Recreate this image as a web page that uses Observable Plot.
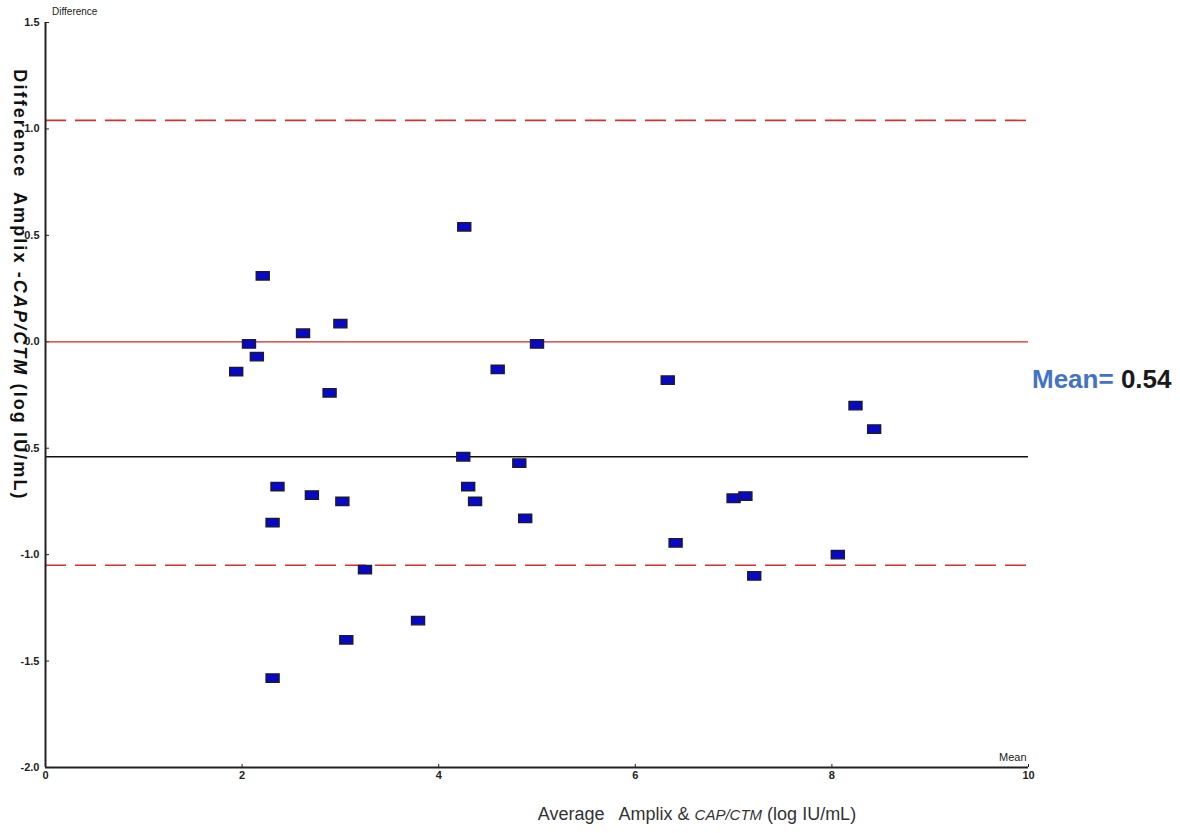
<!DOCTYPE html>
<html>
<head>
<meta charset="utf-8">
<script src="https://cdn.jsdelivr.net/npm/d3@7"></script>
<script src="https://cdn.jsdelivr.net/npm/@observablehq/plot@0.6"></script>
<style>
  body { margin: 0; background: #fff; }
  #wrap { position: relative; width: 1180px; height: 833px; overflow: hidden; }
  #wrap svg { position: absolute; left: 0; top: 0; }
  .lbl { position: absolute; white-space: nowrap; }
</style>
</head>
<body>
<div id="wrap"></div>
<script>
// Average of the two methods (log IU/mL)
const avgValues = [1.94, 2.07, 2.15, 2.21, 2.62, 3.00, 2.89, 2.36, 2.71, 3.02,
  2.31, 3.25, 3.06, 2.31, 3.79, 4.26, 4.25, 4.30, 4.37, 4.60,
  5.00, 4.82, 4.88, 6.33, 6.41, 7.00, 7.12, 7.21, 8.06, 8.24, 8.43];
// Difference Amplix - CAP/CTM (log IU/mL)
const diffValues = [-0.14, -0.01, -0.07, 0.31, 0.04, 0.085, -0.24, -0.68, -0.72, -0.75,
  -0.85, -1.07, -1.40, -1.58, -1.31, 0.54, -0.54, -0.68, -0.75, -0.13,
  -0.01, -0.57, -0.83, -0.18, -0.945, -0.735, -0.725, -1.10, -1.00, -0.30, -0.41];
const meanDiff = -0.54;
const upperLimit = 1.04;
const lowerLimit = -1.05;
const zeroLine = 0;
const xTicks = [0, 2, 4, 6, 8, 10];
const yTicks = [-2.0, -1.5, -1.0, -0.5, 0.0, 0.5, 1.0, 1.5];
const meanLabel = "Mean= ";
const meanValueLabel = "0.54";

const points = avgValues.map((x, i) => ({x, y: diffValues[i]}));

const rectSymbol = {
  draw(ctx) {
    const w = 6.5, h = 4.2;
    ctx.moveTo(-w, -h); ctx.lineTo(w, -h); ctx.lineTo(w, h); ctx.lineTo(-w, h); ctx.closePath();
  }
};

const chart = Plot.plot({
  width: 1180,
  height: 833,
  marginTop: 22,
  marginLeft: 45,
  marginRight: 152,
  marginBottom: 66,
  style: {fontFamily: "'Liberation Sans', Arial, sans-serif", fontSize: "11px", fontWeight: "bold", color: "#222", background: "#fff"},
  x: {domain: [0, 10], ticks: xTicks, tickSize: -3, tickPadding: 7, tickFormat: d => String(d), label: null},
  y: {domain: [-2, 1.5], ticks: yTicks, tickSize: -4, tickPadding: 10, tickFormat: d => d.toFixed(1), label: null},
  marks: [
    Plot.ruleY([zeroLine], {stroke: "#cc2a2a", strokeWidth: 1.3}),
    Plot.ruleY([upperLimit, lowerLimit], {stroke: "#cc3333", strokeWidth: 1.6, strokeDasharray: "21,9"}),
    Plot.ruleY([meanDiff], {stroke: "#111", strokeWidth: 1.4}),
    Plot.ruleX([0], {stroke: "#222", strokeWidth: 2}),
    Plot.ruleY([-2], {stroke: "#222", strokeWidth: 2}),
    Plot.dot(points, {x: "x", y: "y", symbol: rectSymbol, r: 5, fill: "#0808c8", stroke: "#1a1a30", strokeWidth: 1.4})
  ]
});
const wrap = document.getElementById("wrap");
wrap.appendChild(chart);

function addLabel(html, css) {
  const d = document.createElement("div");
  d.className = "lbl";
  d.innerHTML = html;
  Object.assign(d.style, css);
  wrap.appendChild(d);
  return d;
}
addLabel("Difference", {left: "52px", top: "6px", font: "10px 'Liberation Sans', Arial, sans-serif", color: "#222"});
addLabel("Mean", {left: "999px", top: "751px", font: "11px 'Liberation Sans', Arial, sans-serif", color: "#222"});
addLabel("Difference&nbsp; Amplix -<i>CAP/CTM</i> (log IU/mL)", {
  left: "19px", top: "285px", font: "bold 18px 'Liberation Sans', Arial, sans-serif", color: "#111",
  letterSpacing: "2.1px", transform: "translate(-50%, -50%) rotate(90deg)"
});
addLabel("Average&nbsp;&nbsp; Amplix &amp; <i style='font-size:15px'>CAP/CTM</i> (log IU/mL)", {
  left: "697px", top: "804px", font: "18px 'Liberation Sans Narrow', 'Arial Narrow', sans-serif", color: "#333",
  transform: "translateX(-50%)"
});
addLabel("<span style='color:#4472c4'>" + meanLabel + "</span><span style='color:#1a1a1a'>" + meanValueLabel + "</span>", {
  left: "1032px", top: "364px", font: "bold 26px 'Liberation Sans Narrow', 'Arial Narrow', sans-serif"
});
</script>
</body>
</html>
